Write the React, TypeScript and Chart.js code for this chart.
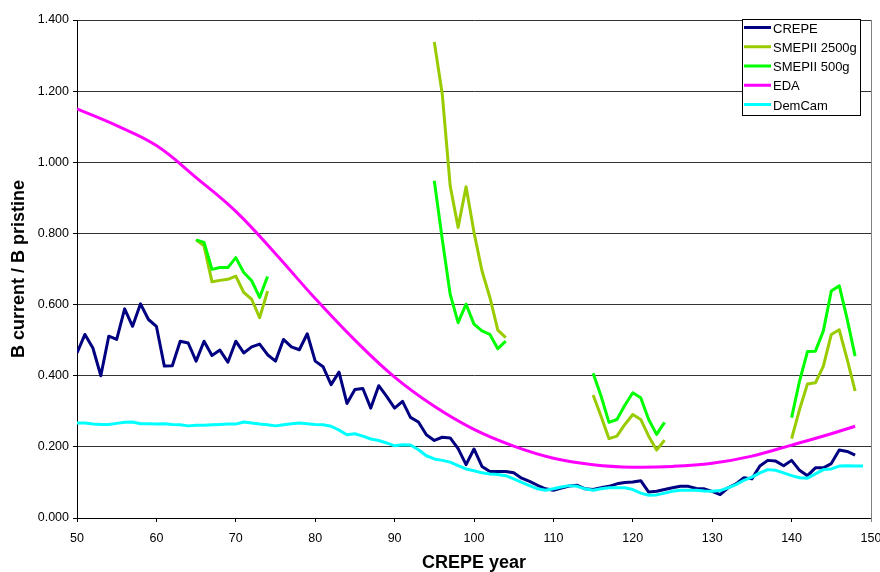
import React, { useEffect, useRef } from 'react';
import { Chart, registerables } from 'chart.js';

Chart.register(...registerables);

// ---------- DATA ----------
const YEARS = [
  50, 51, 52, 53, 54, 55, 56, 57, 58, 59, 60, 61, 62, 63, 64, 65, 66, 67, 68, 69,
  70, 71, 72, 73, 74, 75, 76, 77, 78, 79, 80, 81, 82, 83, 84, 85, 86, 87, 88, 89,
  90, 91, 92, 93, 94, 95, 96, 97, 98, 99, 100, 101, 102, 103, 104, 105, 106, 107, 108, 109,
  110, 111, 112, 113, 114, 115, 116, 117, 118, 119, 120, 121, 122, 123, 124, 125, 126, 127, 128, 129,
  130, 131, 132, 133, 134, 135, 136, 137, 138, 139, 140, 141, 142, 143, 144, 145, 146, 147, 148, 149,
];

// CREPE, years 50..148
const CREPE = [
  0.464, 0.516, 0.478, 0.400, 0.511, 0.502, 0.588, 0.539, 0.602, 0.558,
  0.539, 0.427, 0.428, 0.497, 0.492, 0.441, 0.497, 0.457, 0.472, 0.438,
  0.497, 0.464, 0.481, 0.489, 0.459, 0.441, 0.502, 0.481, 0.473, 0.518,
  0.441, 0.425, 0.375, 0.410, 0.322, 0.361, 0.364, 0.309, 0.372, 0.342,
  0.309, 0.328, 0.283, 0.270, 0.234, 0.218, 0.227, 0.225, 0.195, 0.150,
  0.194, 0.145, 0.131, 0.131, 0.131, 0.127, 0.112, 0.103, 0.092, 0.082,
  0.078, 0.084, 0.090, 0.092, 0.082, 0.080, 0.085, 0.089, 0.096, 0.100,
  0.101, 0.105, 0.073, 0.075, 0.080, 0.085, 0.089, 0.089, 0.083, 0.082,
  0.075, 0.066, 0.085, 0.096, 0.113, 0.110, 0.146, 0.162, 0.160, 0.147,
  0.162, 0.134, 0.119, 0.141, 0.141, 0.153, 0.191, 0.187, 0.177,
];

// DemCam, years 50..149
const DEMCAM = [
  0.267, 0.267, 0.264, 0.263, 0.263, 0.266, 0.269, 0.270, 0.265, 0.265,
  0.264, 0.265, 0.263, 0.262, 0.259, 0.261, 0.261, 0.262, 0.263, 0.264,
  0.264, 0.270, 0.267, 0.264, 0.262, 0.259, 0.262, 0.265, 0.267, 0.265,
  0.263, 0.262, 0.258, 0.247, 0.234, 0.237, 0.230, 0.222, 0.218, 0.211,
  0.203, 0.206, 0.205, 0.192, 0.175, 0.166, 0.162, 0.157, 0.147, 0.138,
  0.133, 0.127, 0.124, 0.122, 0.119, 0.110, 0.100, 0.091, 0.082, 0.078,
  0.082, 0.087, 0.091, 0.089, 0.082, 0.078, 0.082, 0.085, 0.085, 0.085,
  0.080, 0.070, 0.064, 0.065, 0.070, 0.075, 0.078, 0.078, 0.078, 0.076,
  0.075, 0.077, 0.085, 0.094, 0.106, 0.115, 0.127, 0.136, 0.134, 0.127,
  0.119, 0.113, 0.112, 0.124, 0.136, 0.138, 0.146, 0.147, 0.146, 0.146,
];

const EDA_YEARS = [50, 55, 60, 65, 70, 75, 80, 85, 90, 95, 100, 105, 110, 115, 120, 125, 130, 135, 140, 145, 148];
const EDA = [1.150, 1.103, 1.047, 0.957, 0.862, 0.743, 0.617, 0.500, 0.396, 0.314, 0.249, 0.202, 0.168, 0.150, 0.143, 0.145, 0.154, 0.174, 0.205, 0.237, 0.258];

const SMEP_YEARS = [
  [65, 66, 67, 68, 69, 70, 71, 72, 73, 74],
  [95, 96, 97, 98, 99, 100, 101, 102, 103, 104],
  [115, 116, 117, 118, 119, 120, 121, 122, 123, 124],
  [140, 141, 142, 143, 144, 145, 146, 147, 148],
];
const SMEP_2500 = [
  [0.782, 0.765, 0.664, 0.668, 0.671, 0.680, 0.634, 0.615, 0.563, 0.638],
  [1.338, 1.192, 0.934, 0.817, 0.931, 0.803, 0.695, 0.620, 0.528, 0.507],
  [0.346, 0.286, 0.223, 0.230, 0.263, 0.291, 0.277, 0.230, 0.191, 0.219],
  [0.223, 0.305, 0.377, 0.380, 0.427, 0.516, 0.529, 0.446, 0.357],
];
const SMEP_500 = [
  [0.782, 0.775, 0.699, 0.704, 0.704, 0.732, 0.690, 0.667, 0.620, 0.679],
  [0.948, 0.784, 0.629, 0.549, 0.601, 0.545, 0.526, 0.516, 0.476, 0.497],
  [0.407, 0.343, 0.269, 0.277, 0.317, 0.352, 0.338, 0.277, 0.235, 0.269],
  [0.282, 0.385, 0.468, 0.469, 0.526, 0.638, 0.653, 0.559, 0.455],
];

const SERIES_NAMES = ['CREPE', 'SMEPII 2500g', 'SMEPII 500g', 'EDA', 'DemCam'];
const SERIES_COLORS = ['#000080', '#99CC00', '#00FF00', '#FF00FF', '#00FFFF'];

const X_TITLE = 'CREPE year';
const Y_TITLE = 'B current / B pristine';

// ---------- helpers ----------
const pairs = (xs: number[], ys: number[]) => ys.map((y, i) => ({ x: xs[i], y }));
const segments = (xss: number[][], yss: number[][]) => {
  const out: { x: number; y: number | null }[] = [];
  xss.forEach((xs, s) => {
    if (s > 0) out.push({ x: (xss[s - 1][xss[s - 1].length - 1] + xs[0]) / 2, y: null });
    out.push(...pairs(xs, yss[s]));
  });
  return out;
};

const FONT = '"Liberation Sans", Arial, Helvetica, sans-serif';

const boxLegend = {
  id: 'boxLegend',
  afterDraw(chart: any) {
    const ctx = chart.ctx;
    const x0 = 742.5, y0 = 19.5, w = 118, h = 96;
    ctx.save();
    ctx.fillStyle = '#ffffff';
    ctx.fillRect(x0, y0, w, h);
    ctx.strokeStyle = '#000000';
    ctx.lineWidth = 1;
    ctx.strokeRect(x0, y0, w, h);
    SERIES_NAMES.forEach((name, i) => {
      const y = 27.5 + i * 19.25;
      ctx.strokeStyle = SERIES_COLORS[i];
      ctx.lineWidth = 3;
      ctx.beginPath();
      ctx.moveTo(744, y);
      ctx.lineTo(771, y);
      ctx.stroke();
      ctx.fillStyle = '#000000';
      ctx.font = '13px ' + FONT;
      ctx.textBaseline = 'middle';
      ctx.textAlign = 'left';
      ctx.fillText(name, 773, y + 1.5);
    });
    ctx.restore();
  },
};

const rightBorder = {
  id: 'rightBorder',
  afterDatasetsDraw(chart: any) {
    const { ctx, chartArea } = chart;
    const x = Math.round(chartArea.right) + 0.5;
    ctx.save();
    ctx.strokeStyle = '#808080';
    ctx.lineWidth = 1;
    ctx.beginPath();
    ctx.moveTo(x, chartArea.top);
    ctx.lineTo(x, chartArea.bottom + 4);
    ctx.stroke();
    ctx.restore();
  },
};

export default function App() {
  const ref = useRef<HTMLCanvasElement | null>(null);

  useEffect(() => {
    if (!ref.current) return;
    const common = { fill: false, pointRadius: 0, borderWidth: 3, borderJoinStyle: 'round' as const, spanGaps: false };
    const chart = new Chart(ref.current, {
      type: 'line',
      data: {
        datasets: [
          { ...common, label: SERIES_NAMES[0], data: pairs(YEARS, CREPE), borderColor: SERIES_COLORS[0], order: 4 },
          { ...common, label: SERIES_NAMES[1], data: segments(SMEP_YEARS, SMEP_2500), borderColor: SERIES_COLORS[1], order: 3 },
          { ...common, label: SERIES_NAMES[2], data: segments(SMEP_YEARS, SMEP_500), borderColor: SERIES_COLORS[2], order: 2 },
          { ...common, label: SERIES_NAMES[3], data: pairs(EDA_YEARS, EDA), borderColor: SERIES_COLORS[3], order: 1, tension: 0.4 },
          { ...common, label: SERIES_NAMES[4], data: pairs(YEARS, DEMCAM), borderColor: SERIES_COLORS[4], order: 0 },
        ],
      },
      options: {
        animation: false,
        responsive: false,
        devicePixelRatio: 1,
        parsing: false,
        layout: { padding: { top: 20, right: 9, left: 0, bottom: 0 } },
        plugins: { legend: { display: false }, tooltip: { enabled: false }, title: { display: false } },
        scales: {
          x: {
            type: 'linear',
            min: 50,
            max: 150,
            ticks: { stepSize: 10, color: '#000', padding: 9, font: { family: FONT, size: 12.5 } },
            grid: { drawOnChartArea: false, drawTicks: true, tickLength: 4, tickColor: '#000' },
            border: { color: '#000', width: 1 },
            title: {
              display: true,
              text: X_TITLE,
              color: '#000',
              font: { family: FONT, size: 18, weight: 'bold', lineHeight: 1.0 },
              padding: { top: 0, bottom: 0 },
            },
            afterFit: (s: any) => { s.height = 54; s.paddingRight = 0; s.paddingLeft = 0; },
          },
          y: {
            type: 'linear',
            min: 0,
            max: 1.4,
            ticks: {
              stepSize: 0.2,
              color: '#000',
              padding: 4,
              font: { family: FONT, size: 12.5 },
              callback: (v: any) => Number(v).toFixed(3),
            },
            grid: { color: '#333', lineWidth: 1, drawTicks: true, tickLength: 4, tickColor: '#000' },
            border: { color: '#000', width: 1 },
            title: {
              display: true,
              text: Y_TITLE,
              color: '#000',
              font: { family: FONT, size: 18, weight: 'bold', lineHeight: 1.2 },
              padding: { top: 8, bottom: 0 },
            },
            afterFit: (s: any) => { s.width = 77; },
          },
        },
      },
      plugins: [rightBorder, boxLegend],
    } as any);
    return () => chart.destroy();
  }, []);

  return (
    <div style={{ position: 'absolute', left: 0, top: 0, width: 880, height: 572, background: '#fff' }}>
      <canvas ref={ref} width={880} height={572} />
    </div>
  );
}
